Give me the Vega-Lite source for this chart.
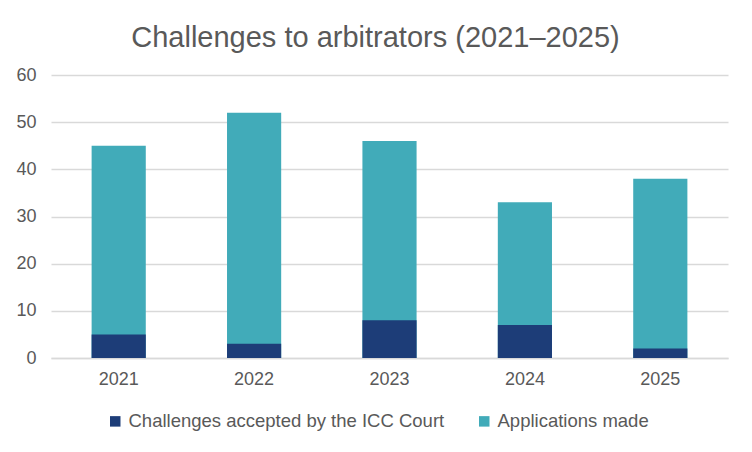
{
  "$schema": "https://vega.github.io/schema/vega-lite/v6.json",
  "description": "Challenges to arbitrators 2021-2025",
  "autosize": {"type": "none"},
  "padding": {"left": 51, "top": 75, "right": 24, "bottom": 94},
  "width": 677,
  "height": 283,
  "background": "white",
  "title": {
    "text": "Challenges to arbitrators (2021–2025)",
    "anchor": "middle",
    "dx": -14,
    "offset": 13,
    "font": "Liberation Sans",
    "fontSize": 29,
    "fontWeight": "normal",
    "color": "#595959"
  },
  "data": {
    "values": [
      {"year": "2021", "series": "Applications made", "value": 45},
      {"year": "2022", "series": "Applications made", "value": 52},
      {"year": "2023", "series": "Applications made", "value": 46},
      {"year": "2024", "series": "Applications made", "value": 33},
      {"year": "2025", "series": "Applications made", "value": 38},
      {"year": "2021", "series": "Challenges accepted by the ICC Court", "value": 5},
      {"year": "2022", "series": "Challenges accepted by the ICC Court", "value": 3},
      {"year": "2023", "series": "Challenges accepted by the ICC Court", "value": 8},
      {"year": "2024", "series": "Challenges accepted by the ICC Court", "value": 7},
      {"year": "2025", "series": "Challenges accepted by the ICC Court", "value": 2}
    ]
  },
  "mark": {"type": "bar"},
  "encoding": {
    "x": {
      "field": "year",
      "type": "nominal",
      "title": null,
      "scale": {"paddingInner": 0.6, "paddingOuter": 0.3},
      "axis": {
        "labelAngle": 0,
        "ticks": false,
        "domainColor": "#d9d9d9",
        "domainWidth": 1.5,
        "labelPadding": 12,
        "labelFontSize": 18,
        "labelColor": "#595959",
        "labelFont": "Liberation Sans"
      }
    },
    "y": {
      "field": "value",
      "type": "quantitative",
      "stack": null,
      "title": null,
      "scale": {"domain": [0, 60]},
      "axis": {
        "values": [0, 10, 20, 30, 40, 50, 60],
        "domain": false,
        "ticks": false,
        "gridColor": "#d9d9d9",
        "gridWidth": 1.5,
        "labelPadding": 15,
        "labelFontSize": 18,
        "labelColor": "#595959",
        "labelFont": "Liberation Sans"
      }
    },
    "color": {
      "field": "series",
      "type": "nominal",
      "title": null,
      "scale": {
        "domain": ["Challenges accepted by the ICC Court", "Applications made"],
        "range": ["#1d3d78", "#41abb9"]
      },
      "legend": {
        "orient": "none",
        "legendX": 55,
        "legendY": 337,
        "direction": "horizontal",
        "symbolType": "square",
        "symbolSize": 110,
        "symbolStrokeWidth": 0,
        "labelFontSize": 18.5,
        "labelLimit": 0,
        "labelOffset": 4,
        "labelColor": "#595959",
        "labelFont": "Liberation Sans",
        "columnPadding": 30
      }
    },
    "order": {"field": "series", "sort": "ascending"}
  },
  "config": {
    "view": {"stroke": null}
  }
}
